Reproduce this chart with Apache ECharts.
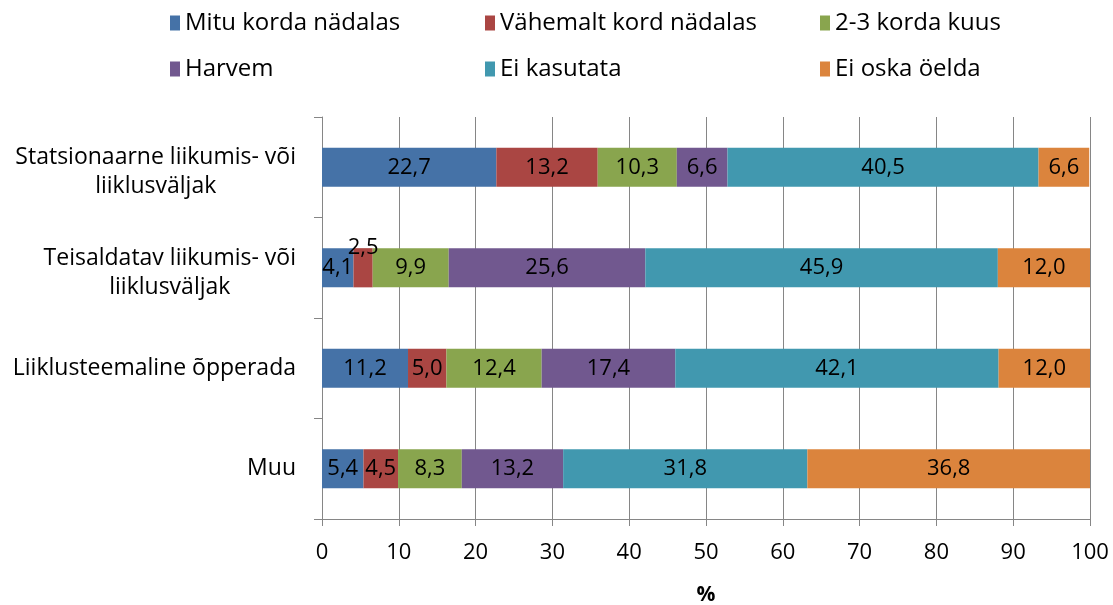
<!DOCTYPE html>
<html>
<head>
<meta charset="utf-8">
<script src="https://cdn.jsdelivr.net/npm/echarts@6/dist/echarts.min.js"></script>
<style>
  html, body { margin: 0; padding: 0; background: #fff; }
  #chart { width: 1113px; height: 605px; }
</style>
</head>
<body>
<div id="chart"></div>
<script>
// categories (top to bottom)
const categories = [
  'Statsionaarne liikumis- või\nliiklusväljak',
  'Teisaldatav liikumis- või\nliiklusväljak',
  'Liiklusteemaline õpperada',
  'Muu',
];
const seriesNames = ['Mitu korda nädalas', 'Vähemalt kord nädalas', '2-3 korda kuus', 'Harvem', 'Ei kasutata', 'Ei oska öelda'];
const colors = ['#4572A7', '#AA4643', '#89A54E', '#71588F', '#4198AF', '#DB843D'];

const mituKorda = [22.7, 4.1, 11.2, 5.4];
const vahemaltKord = [13.2, 2.5, 5.0, 4.5];
const kordaKuus = [10.3, 9.9, 12.4, 8.3];
const harvem = [6.6, 25.6, 17.4, 13.2];
const eiKasutata = [40.5, 45.9, 42.1, 31.8];
const eiOska = [6.6, 12.0, 12.0, 36.8];
const values = [mituKorda, vahemaltKord, kordaKuus, harvem, eiKasutata, eiOska];

const xTicks = [0, 10, 20, 30, 40, 50, 60, 70, 80, 90, 100];

const font = '"Open Sans", sans-serif';
const fmt = (v) => v.toFixed(1).replace('.', ',');

const chart = echarts.init(document.getElementById('chart'));

const series = seriesNames.map((name, si) => {
  return {
    name: name,
    type: 'bar',
    stack: 'total',
    barWidth: '39%',
    itemStyle: { color: colors[si] },
    label: {
      show: true,
      position: 'inside',
      color: '#000',
      fontSize: 22,
      fontFamily: font,
      formatter: (p) => fmt(p.value),
    },
    data: values[si].map((v, ci) => {
      // the tiny red segment of the second row has its label lifted above the bar
      if (si === 1 && ci === 1) {
        return { value: v, label: { position: 'top', distance: -11 } };
      }
      return v;
    }),
  };
});

const legendBase = {
  orient: 'vertical',
  top: 11,
  padding: 0,
  icon: 'rect',
  itemWidth: 10,
  itemHeight: 15,
  itemGap: 22,
  textStyle: { fontSize: 24, fontFamily: font, color: '#000' },
  selectedMode: false,
};

// two-line labels sit a little lower than the band centre
const yData = categories.map((c) =>
  c.indexOf('\n') >= 0 ? { value: c, textStyle: { padding: [10, 0, 0, 0] } } : c
);

const option = {
  animation: false,
  color: colors,
  legend: [
    Object.assign({}, legendBase, { left: 170, data: [seriesNames[0], seriesNames[3]] }),
    Object.assign({}, legendBase, { left: 485, data: [seriesNames[1], seriesNames[4]] }),
    Object.assign({}, legendBase, { left: 820, data: [seriesNames[2], seriesNames[5]] }),
  ],
  grid: { left: 322, right: 23, top: 117, bottom: 86, outerBoundsMode: 'none' },
  xAxis: {
    type: 'value',
    min: xTicks[0],
    max: xTicks[xTicks.length - 1],
    interval: 10,
    name: '%',
    nameLocation: 'middle',
    nameGap: 66,
    nameTextStyle: { fontSize: 21, fontWeight: 'bold', fontFamily: font, color: '#000' },
    axisLine: { show: true, lineStyle: { color: '#868686' } },
    axisTick: { show: true, length: 7, lineStyle: { color: '#868686' } },
    axisLabel: { fontSize: 22, fontFamily: font, color: '#000', margin: 23 },
    splitLine: { show: true, lineStyle: { color: '#868686', width: 1 } },
  },
  yAxis: {
    type: 'category',
    inverse: true,
    data: yData,
    axisLine: { show: true, lineStyle: { color: '#868686' } },
    axisTick: { show: true, length: 8, lineStyle: { color: '#868686' } },
    axisLabel: {
      fontSize: 23,
      fontFamily: font,
      color: '#000',
      margin: 26,
      align: 'right',
      lineHeight: 29,
      formatter: (v) => v.split('\n').map((l) => '{c|' + l + '}').join('\n'),
      rich: {
        c: { align: 'center', fontSize: 23, fontFamily: font, color: '#000', lineHeight: 29 },
      },
    },
    splitLine: { show: false },
  },
  series: series,
};

chart.setOption(option);
</script>
</body>
</html>
